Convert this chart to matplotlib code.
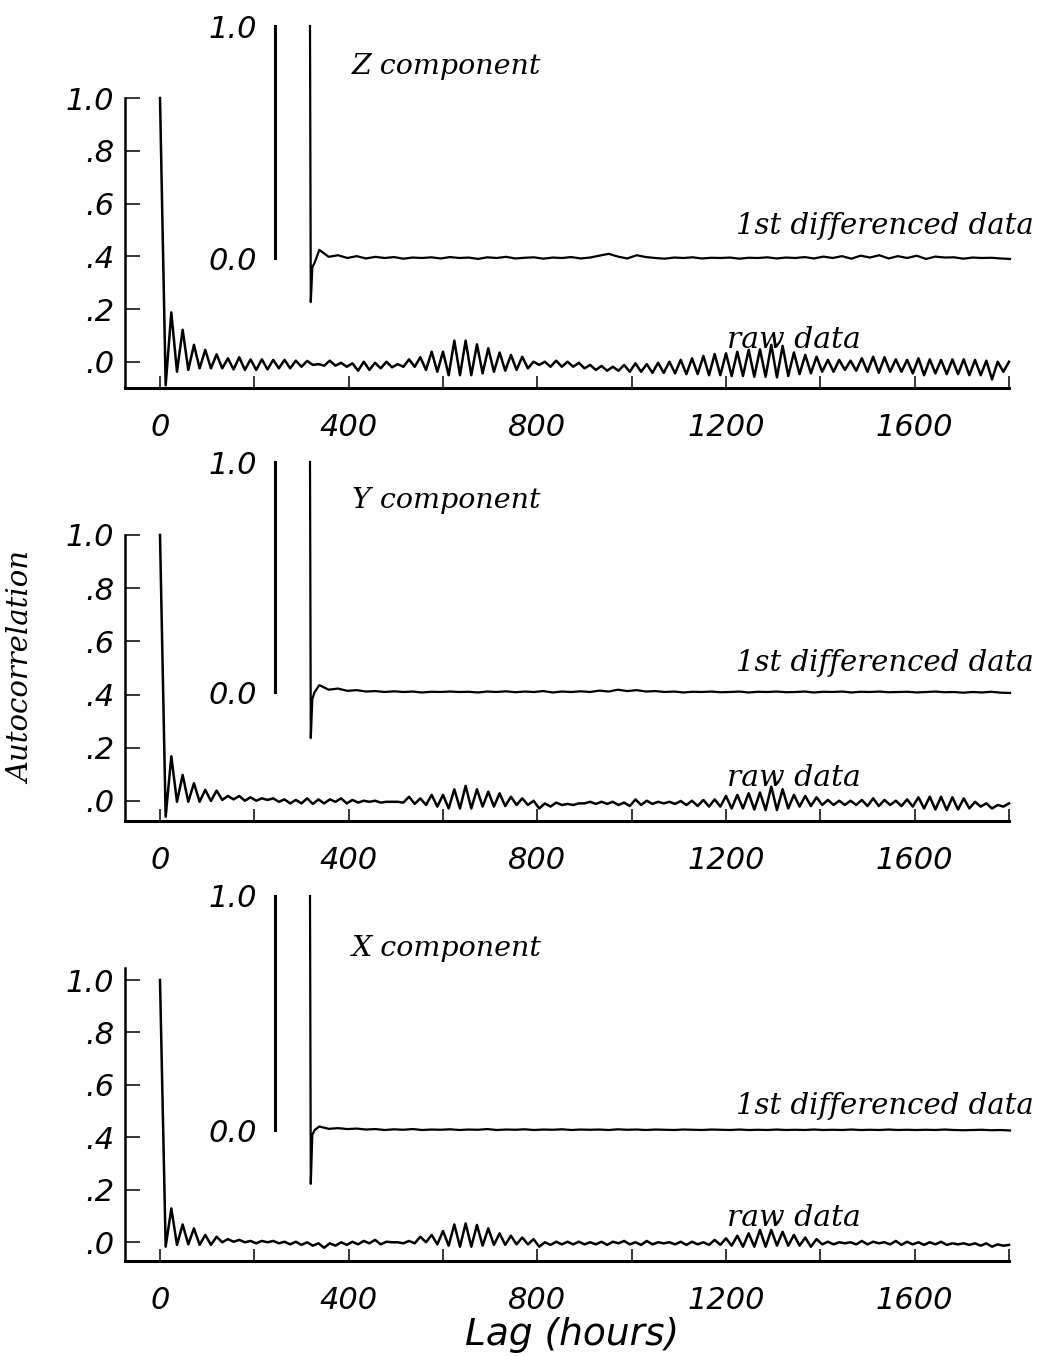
import numpy as np
import matplotlib
matplotlib.use("Agg")
import matplotlib.pyplot as plt

# ---------------- data ----------------
# raw-data autocorrelation: troughs at lag 24n-12, peaks at lag 24n (n = 1..75)
z_raw_trough = [-0.088, -0.037, -0.030, -0.024, -0.024,
                -0.024, -0.028, -0.030, -0.030, -0.028,
                -0.024, -0.024, -0.018, -0.011, -0.014,
                -0.014, -0.018, -0.033, -0.030, -0.024,
                -0.020, -0.018, -0.018, -0.030, -0.037,
                -0.050, -0.050, -0.050, -0.043, -0.037,
                -0.033, -0.030, -0.024, -0.011, -0.018,
                -0.018, -0.018, -0.024, -0.030, -0.033,
                -0.033, -0.037, -0.037, -0.041, -0.041,
                -0.043, -0.046, -0.046, -0.050, -0.050,
                -0.053, -0.053, -0.056, -0.056, -0.058,
                -0.053, -0.046, -0.043, -0.037, -0.037,
                -0.030, -0.033, -0.037, -0.041, -0.037,
                -0.037, -0.043, -0.050, -0.043, -0.046,
                -0.046, -0.050, -0.050, -0.066, -0.037]
z_raw_peak = [0.188, 0.122, 0.065, 0.046, 0.029,
              0.014, 0.018, 0.010, 0.010, 0.008,
              0.008, 0.005, 0.004, -0.008, 0.005,
              -0.003, -0.005, 0.001, -0.003, 0.001,
              -0.008, 0.010, 0.018, 0.039, 0.039,
              0.081, 0.081, 0.067, 0.052, 0.036,
              0.027, 0.020, 0.001, 0.001, 0.005,
              0.001, -0.003, -0.011, -0.015, -0.018,
              -0.011, -0.005, -0.008, -0.003, 0.001,
              0.008, 0.014, 0.023, 0.030, 0.033,
              0.039, 0.046, 0.048, 0.065, 0.061,
              0.036, 0.027, 0.020, 0.008, 0.008,
              0.005, 0.014, 0.020, 0.018, 0.010,
              0.008, 0.014, 0.010, 0.008, 0.010,
              0.010, 0.008, 0.005, 0.001, 0.001]

y_raw_trough = [-0.059, -0.003, -0.003, -0.003, 0.000,
                0.004, 0.006, 0.001, 0.001, 0.004,
                -0.003, -0.009, -0.009, -0.011, -0.009,
                -0.003, -0.009, -0.006, -0.003, -0.006,
                -0.003, -0.006, -0.011, -0.015, -0.021,
                -0.028, -0.028, -0.028, -0.021, -0.021,
                -0.019, -0.015, -0.015, -0.028, -0.021,
                -0.015, -0.015, -0.009, -0.011, -0.011,
                -0.015, -0.019, -0.015, -0.011, -0.009,
                -0.011, -0.015, -0.019, -0.021, -0.021,
                -0.028, -0.028, -0.032, -0.034, -0.034,
                -0.028, -0.021, -0.019, -0.015, -0.015,
                -0.015, -0.015, -0.019, -0.019, -0.015,
                -0.019, -0.021, -0.028, -0.032, -0.034,
                -0.032, -0.028, -0.021, -0.028, -0.021]
y_raw_peak = [0.168, 0.098, 0.067, 0.042, 0.039,
              0.019, 0.019, 0.014, 0.010, 0.010,
              0.006, 0.004, 0.010, 0.006, 0.006,
              0.010, 0.004, 0.001, 0.001, -0.003,
              -0.003, 0.016, 0.010, 0.023, 0.023,
              0.044, 0.057, 0.044, 0.035, 0.029,
              0.016, 0.010, 0.001, -0.009, -0.006,
              -0.011, -0.009, -0.003, -0.003, -0.003,
              -0.006, 0.006, 0.001, -0.003, -0.003,
              0.000, 0.001, 0.004, 0.006, 0.019,
              0.023, 0.029, 0.032, 0.054, 0.044,
              0.023, 0.019, 0.014, 0.004, 0.001,
              0.001, 0.004, 0.010, 0.004, 0.001,
              0.006, 0.014, 0.016, 0.016, 0.014,
              0.010, -0.003, -0.009, -0.015, -0.009]

x_raw_trough = [-0.018, -0.011, -0.009, -0.011, -0.011,
                -0.001, 0.001, -0.001, -0.005, -0.001,
                -0.005, -0.009, -0.011, -0.014, -0.022,
                -0.014, -0.011, -0.009, -0.005, -0.009,
                -0.001, -0.005, -0.005, -0.001, -0.009,
                -0.014, -0.018, -0.018, -0.014, -0.011,
                -0.011, -0.009, -0.009, -0.018, -0.011,
                -0.009, -0.009, -0.009, -0.009, -0.011,
                -0.005, -0.009, -0.011, -0.009, -0.005,
                -0.009, -0.011, -0.009, -0.011, -0.011,
                -0.014, -0.018, -0.018, -0.018, -0.014,
                -0.014, -0.014, -0.018, -0.009, -0.009,
                -0.005, -0.009, -0.009, -0.005, -0.009,
                -0.011, -0.009, -0.011, -0.009, -0.011,
                -0.009, -0.011, -0.014, -0.018, -0.014]
x_raw_peak = [0.128, 0.067, 0.052, 0.027, 0.020,
              0.011, 0.008, 0.004, 0.004, 0.004,
              0.001, 0.001, -0.001, -0.005, -0.005,
              -0.001, 0.001, 0.004, 0.008, 0.001,
              -0.001, 0.004, 0.020, 0.027, 0.042,
              0.067, 0.071, 0.065, 0.052, 0.033,
              0.024, 0.017, 0.011, -0.001, 0.001,
              0.001, 0.001, -0.001, 0.001, 0.001,
              0.004, -0.001, 0.004, -0.001, -0.001,
              0.001, 0.001, -0.001, 0.008, 0.014,
              0.024, 0.033, 0.046, 0.046, 0.039,
              0.027, 0.017, 0.011, 0.001, -0.001,
              -0.001, 0.004, 0.001, -0.001, 0.004,
              0.001, -0.001, -0.001, 0.001, -0.005,
              -0.005, -0.005, -0.005, -0.009, -0.011]

# 1st differenced data: lags 0, 2, 6, 12, then every 24 h up to 1800
diff_lags = [0, 2, 6, 12] + list(range(24, 1801, 24))
z_diff = [1.0, -0.19, -0.04, -0.02,
          0.035, 0.005, 0.012, 0.000, 0.008,
          -0.002, 0.005, 0.000, 0.004, -0.003,
          0.002, 0.000, 0.003, -0.002, 0.004,
          0.000, 0.002, -0.004, 0.003, 0.000,
          0.005, -0.002, 0.001, 0.003, -0.003,
          0.002, 0.000, 0.004, -0.002, 0.002,
          0.010, 0.018, 0.006, -0.002, 0.012,
          0.004, 0.000, -0.003, 0.002, 0.000,
          0.003, -0.002, 0.001, 0.000, 0.002,
          -0.003, 0.001, 0.000, 0.003, -0.002,
          0.002, 0.000, 0.004, -0.002, 0.006,
          0.000, 0.008, -0.003, 0.010, 0.002,
          0.012, -0.002, 0.008, 0.000, 0.010,
          -0.004, 0.006, 0.002, 0.003, -0.003,
          0.002, 0.000, 0.001, -0.002, -0.004]
y_diff = [1.0, -0.20, -0.03, 0.0,
          0.030, 0.010, 0.015, 0.005, 0.008,
          0.002, 0.004, 0.000, 0.003, 0.000,
          0.002, -0.002, 0.001, 0.000, 0.002,
          0.000, 0.001, -0.002, 0.002, 0.000,
          0.003, -0.001, 0.002, 0.000, 0.004,
          -0.002, 0.002, 0.000, 0.003, 0.000,
          0.006, 0.002, 0.010, 0.004, 0.008,
          0.002, 0.004, 0.000, 0.002, -0.002,
          0.001, 0.000, 0.002, -0.001, 0.000,
          0.002, -0.002, 0.001, 0.000, 0.002,
          -0.001, 0.000, 0.002, -0.002, 0.001,
          0.000, 0.002, -0.002, 0.001, 0.000,
          0.002, -0.001, 0.000, 0.001, -0.002,
          0.000, 0.002, -0.001, 0.000, -0.003,
          0.000, -0.002, 0.001, -0.003, -0.004]
x_diff = [1.0, -0.23, -0.02, 0.0,
          0.015, 0.005, 0.008, 0.004, 0.006,
          0.002, 0.004, 0.000, 0.003, 0.001,
          0.004, 0.000, 0.002, 0.001, 0.003,
          0.000, 0.002, 0.001, 0.004, 0.000,
          0.002, 0.001, 0.003, 0.000, 0.002,
          0.001, 0.003, 0.000, 0.002, 0.001,
          0.002, 0.000, 0.003, 0.001, 0.002,
          0.000, 0.002, 0.001, 0.000, 0.002,
          0.001, 0.000, 0.002, 0.001, 0.000,
          0.002, 0.000, 0.001, 0.000, 0.002,
          0.000, 0.001, 0.000, 0.002, 0.000,
          0.001, 0.000, 0.002, 0.000, 0.001,
          0.000, 0.002, 0.000, 0.001, 0.000,
          0.001, 0.000, 0.002, 0.000, -0.001,
          0.000, 0.001, -0.001, 0.000, -0.002]

components = ["Z component", "Y component", "X component"]
x_ticks = list(range(0, 1801, 200))
x_ticklabels = ["0", "", "400", "", "800", "", "1200", "", "1600", ""]
y_ticks = [0.0, 0.2, 0.4, 0.6, 0.8, 1.0]
y_ticklabels = [".0", ".2", ".4", ".6", ".8", "1.0"]
inset_ticklabels = ["0.0", "1.0"]


def raw_series(trough, peak):
    lags = [0]
    vals = [1.0]
    for n, (t, p) in enumerate(zip(trough, peak), start=1):
        lags += [24 * n - 12, 24 * n]
        vals += [t, p]
    return lags, vals


raws = [raw_series(z_raw_trough, z_raw_peak),
        raw_series(y_raw_trough, y_raw_peak),
        raw_series(x_raw_trough, x_raw_peak)]
diffs = [z_diff, y_diff, x_diff]

# ---------------- layout (pixel geometry of the page) ----------------
W, H = 1037, 1356
fig = plt.figure(figsize=(W / 100, H / 100), dpi=100)
fig.patch.set_facecolor("white")


def rect(l, t, r, b):
    return [l / W, 1 - b / H, (r - l) / W, (b - t) / H]


# per panel: px of y=0, px of y=1, bottom spine px, top px,
#            inset px of 0.0, inset px of 1.0, text y px (component, diff, raw)
panels = [
    dict(y0=362, y1=98, bot=388, top=98, i0=258, i1=26, tc=67, td=226, tr=340),
    dict(y0=801, y1=535, bot=821, top=535, i0=692, i1=462, tc=500, td=663, tr=778),
    dict(y0=1242, y1=980, bot=1261, top=968, i0=1130, i1=896, tc=948, td=1106, tr=1218),
]

X0PX, X1PX, XLPX = 160, 1009, 125          # lag 0, lag 1800, left spine
IX0PX, IX1PX, ILPX = 310, 1010, 275        # inset lag 0, lag 1800, inset spine

tick_font = dict(family="DejaVu Sans", style="oblique", size=22)
serif_font = dict(family="DejaVu Serif", style="italic")

for k, p in enumerate(panels):
    # main axes
    ax = fig.add_axes(rect(XLPX, p["top"], X1PX, p["bot"]))
    ax.set_facecolor("none")
    sc = p["y0"] - p["y1"]
    ax.set_ylim((p["y0"] - p["bot"]) / sc, (p["y0"] - p["top"]) / sc)
    xs = (X1PX - X0PX) / 1800.0
    ax.set_xlim(-(X0PX - XLPX) / xs, 1800)
    for s in ["top", "right"]:
        ax.spines[s].set_visible(False)
    ax.spines["bottom"].set_linewidth(2.2)
    ax.spines["left"].set_linewidth(1.8)
    ax.set_xticks(x_ticks)
    ax.set_xticklabels(x_ticklabels, fontdict=tick_font)
    ax.set_yticks(y_ticks)
    ax.set_yticklabels(y_ticklabels, fontdict=tick_font)
    ax.tick_params(axis="x", direction="in", length=9, width=1.1, pad=18)
    ax.tick_params(axis="y", direction="in", length=11, width=1.1, pad=8)
    lags, vals = raws[k]
    ax.plot(lags, vals, color="black", lw=1.8, clip_on=False,
            solid_joinstyle="round")

    # inset axes for 1st differenced data
    isc = p["i0"] - p["i1"]
    itop = p["i1"] - 4
    ibot = p["i0"] + 0.32 * isc
    iax = fig.add_axes(rect(ILPX, itop, IX1PX, ibot))
    iax.set_facecolor("none")
    iax.set_ylim((p["i0"] - ibot) / isc, (p["i0"] - itop) / isc)
    ixs = (IX1PX - IX0PX) / 1800.0
    iax.set_xlim(-(IX0PX - ILPX) / ixs, 1800)
    for s in ["top", "right", "bottom"]:
        iax.spines[s].set_visible(False)
    iax.spines["left"].set_bounds(0, 1)
    iax.spines["left"].set_linewidth(2.2)
    iax.set_xticks([])
    iax.set_yticks([0, 1])
    iax.set_yticklabels(inset_ticklabels, fontdict=tick_font)
    iax.tick_params(axis="y", length=0, pad=13)
    iax.plot(diff_lags, diffs[k], color="black", lw=1.6, clip_on=False,
             solid_joinstyle="round")

    # annotations
    fig.text(352 / W, 1 - p["tc"] / H, components[k], fontsize=20.5,
             ha="left", va="center", **serif_font)
    fig.text(1034 / W, 1 - p["td"] / H, "1st differenced data", fontsize=21,
             ha="right", va="center", **serif_font)
    fig.text(727 / W, 1 - p["tr"] / H, "raw data", fontsize=21.5,
             ha="left", va="center", **serif_font)

fig.text(22 / W, 1 - 668 / H, "Autocorrelation", rotation=90, fontsize=21,
         ha="center", va="center", **serif_font)
fig.text(572 / W, 1 - 1335 / H, "Lag (hours)", fontsize=27,
         ha="center", va="center", family="DejaVu Sans", style="oblique")

fig.savefig("out.png", dpi=100, facecolor="white")
